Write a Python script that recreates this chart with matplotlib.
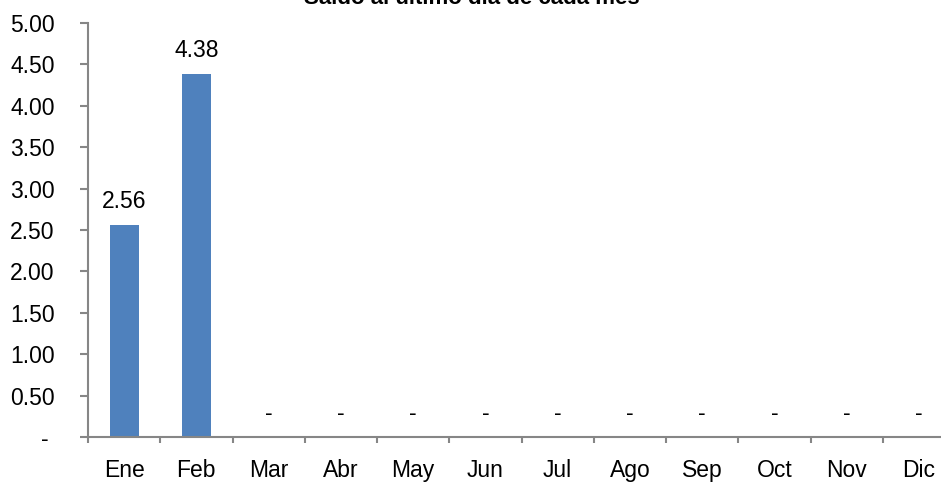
import numpy as np
import matplotlib
matplotlib.use("Agg")
import matplotlib.pyplot as plt

plt.rcParams['font.family'] = ['Liberation Sans', 'DejaVu Sans']

# data
meses = ['Ene', 'Feb', 'Mar', 'Abr', 'May', 'Jun', 'Jul', 'Ago', 'Sep', 'Oct', 'Nov', 'Dic']
saldo = [2.56, 4.38, 0, 0, 0, 0, 0, 0, 0, 0, 0, 0]
y_ticks = [0, 0.5, 1.0, 1.5, 2.0, 2.5, 3.0, 3.5, 4.0, 4.5, 5.0]
titulo = 'Saldo al último día de cada mes'

gris = '#868686'
azul = '#4F81BD'

fig = plt.figure(figsize=(9.41, 4.86), dpi=100)
ax = fig.add_axes([88 / 941, 49 / 486, 867 / 941, 414 / 486])

x_pos = np.arange(len(meses))
ax.bar(x_pos, saldo, width=0.4, color=azul, zorder=2)

# etiquetas de datos
for x, v in zip(x_pos, saldo):
    txt = '%.2f' % v if v != 0 else '-'
    ax.annotate(txt, (x, v), xytext=(0, 17), textcoords='offset pixels',
                ha='center', va='baseline', fontsize=16.5)

ax.set_xlim(-0.5, len(meses) - 0.5)
ax.set_ylim(0, 5)
ax.set_yticks(y_ticks)
ax.set_yticklabels(['- '] + ['%.2f' % t for t in y_ticks[1:]])
ax.set_xticks(x_pos)
ax.set_xticklabels(meses)
ax.set_xticks(np.arange(len(meses) + 1) - 0.5, minor=True)

for s in ['top', 'right']:
    ax.spines[s].set_visible(False)
for s in ['left', 'bottom']:
    ax.spines[s].set_color(gris)
    ax.spines[s].set_linewidth(1.5)

ax.tick_params(axis='y', direction='out', length=6, width=1.5, color=gris,
               labelsize=16.5, pad=18)
ax.tick_params(axis='x', which='major', length=0, labelsize=16.5, pad=16)
ax.tick_params(axis='x', which='minor', direction='out', length=4.5, width=1.5, color=gris)

fig.text(0.5016, 1 - 3.5 / 486, titulo, ha='center', va='baseline',
         fontsize=16, fontweight='bold')

plt.savefig('out.png', dpi=100)
